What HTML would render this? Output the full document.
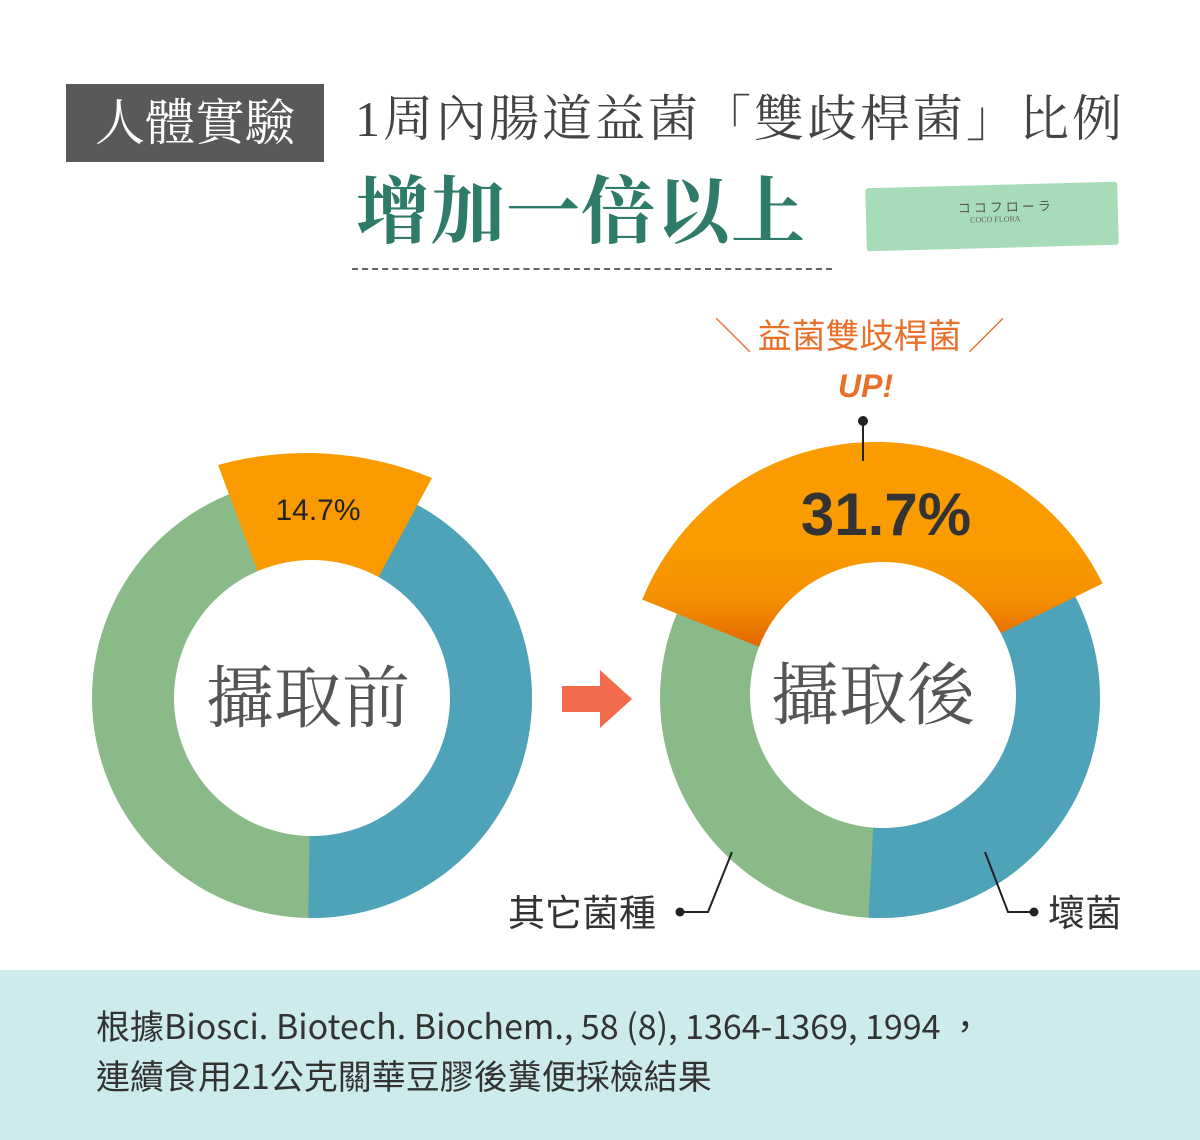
<!DOCTYPE html>
<html><head><meta charset="utf-8"><style>
body{margin:0;width:1200px;height:1140px;background:#fff;overflow:hidden;position:relative;font-family:"Liberation Sans","Noto Sans CJK TC",sans-serif}
.a{position:absolute;white-space:nowrap}
.serif{font-family:"Liberation Serif","Noto Serif CJK SC",serif}
</style></head><body>
<div class="a serif" style="left:66px;top:84px;width:258px;height:78px;background:#595959;color:#fff;font-size:50px;line-height:78px;text-align:center">人體實驗</div>
<div class="a serif" style="left:355px;top:84px;font-size:50px;line-height:70px;color:#444;letter-spacing:3px">1周內腸道益菌「雙歧桿菌」比例</div>
<div class="a serif" style="left:356px;top:170px;font-size:74px;line-height:86px;color:#2f7b6a;font-weight:bold;letter-spacing:1px">增加一倍以上</div>
<div class="a" style="left:352px;top:268px;width:480px;border-top:2px dashed #666"></div>
<div class="a" style="left:866px;top:185px;width:252px;height:63px;background:#a6dcb8;border-radius:3px;transform:rotate(-1.5deg)">
 <div class="a" style="left:92px;top:12px;font-size:13px;color:#555;letter-spacing:3px;font-family:'Noto Sans CJK JP',sans-serif">ココフローラ</div>
 <div class="a serif" style="left:104px;top:30px;font-size:8px;color:#666">COCO FLORA</div>
</div>
<div class="a" style="left:716px;top:310px;font-size:34px;line-height:48px;color:#e8702a;font-family:'Noto Sans CJK TC',sans-serif">╲ 益菌雙歧桿菌 ╱</div>
<div class="a" style="left:838px;top:364px;font-size:32px;line-height:44px;color:#e8702a;font-weight:bold;font-style:italic">UP!</div>
<svg class="a" style="left:0;top:0" width="1200" height="970">
<defs><linearGradient id="g" x1="0" y1="540" x2="0" y2="660" gradientUnits="userSpaceOnUse">
<stop offset="0" stop-color="#fa9c00"/><stop offset="0.5" stop-color="#f39000"/><stop offset="1" stop-color="#de5a00"/></linearGradient></defs>
<circle cx="312" cy="698" r="220" fill="#8aba88"/>
<path d="M312,698 L387.2,491.3 A220,220 0 0 1 308.2,918 Z" fill="#4fa3b9"/>
<path d="M258,572 L218,465 A330,330 0 0 1 432,478 L378,578 Z" fill="#f99a00"/>
<circle cx="312" cy="698" r="138" fill="#fff"/>
<text x="318" y="520" font-size="30" fill="#222" text-anchor="middle" font-family="Liberation Sans,sans-serif">14.7%</text>
<text x="308" y="722" font-size="68" fill="#555" text-anchor="middle" font-family="Liberation Serif,Noto Serif CJK SC,serif">攝取前</text>
<polygon points="562,686 600,686 600,670 632,699 600,728 600,712 562,712" fill="#f26b4a"/>
<circle cx="880" cy="698" r="220" fill="#8aba88"/>
<path d="M880,698 L1070.5,588 A220,220 0 0 1 868.5,917.7 Z" fill="#4fa3b9"/>
<path d="M876,694 L642.3,599.6 A252,252 0 0 1 1102.5,583.5 Z" fill="url(#g)"/>
<circle cx="883" cy="695" r="133" fill="#fff"/>
<text x="886" y="535" font-size="60" font-weight="bold" fill="#333" text-anchor="middle" font-family="Liberation Sans,sans-serif">31.7%</text>
<text x="873" y="719" font-size="68" fill="#555" text-anchor="middle" font-family="Liberation Serif,Noto Serif CJK SC,serif">攝取後</text>
<line x1="863" y1="420" x2="863" y2="461" stroke="#222" stroke-width="2"/><circle cx="863" cy="421" r="5" fill="#222"/>
<polyline points="680,912 708,912 732,852" fill="none" stroke="#222" stroke-width="2"/><circle cx="680" cy="912" r="4.5" fill="#222"/>
<polyline points="1034,912 1008,912 985,852" fill="none" stroke="#222" stroke-width="2"/><circle cx="1034" cy="912" r="4.5" fill="#222"/>
<text x="508" y="926" font-size="37" fill="#333" font-family="Noto Sans CJK TC,sans-serif">其它菌種</text>
<text x="1048" y="926" font-size="37" fill="#333" font-family="Noto Sans CJK TC,sans-serif">壞菌</text>
</svg>
<div class="a" style="left:0;top:970px;width:1200px;height:170px;background:#cdeaec"></div>
<div class="a" style="left:96px;top:1000px;font-size:34px;line-height:50px;color:#333;font-family:'Noto Sans CJK TC',sans-serif">根據Biosci. Biotech. Biochem., 58 (8), 1364-1369, 1994 ，<br>連續食用21公克關華豆膠後糞便採檢結果</div>
</body></html>
